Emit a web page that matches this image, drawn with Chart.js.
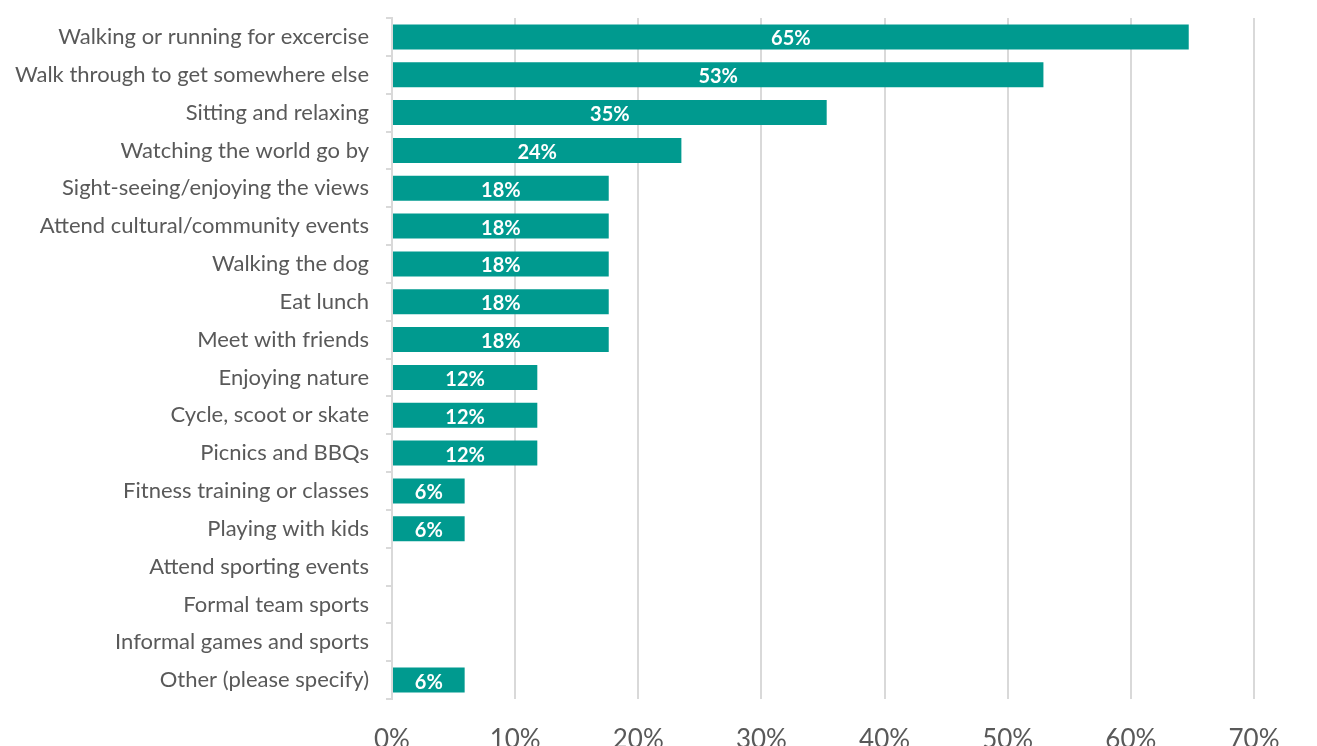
<!DOCTYPE html>
<html>
<head>
<meta charset="utf-8">
<script src="https://cdn.jsdelivr.net/npm/chart.js@4"></script>
<style>
  html, body { margin: 0; padding: 0; background: #fff; }
  #wrap { width: 1317px; height: 746px; }
</style>
</head>
<body>
<div id="wrap"><canvas id="graph" width="1317" height="746"></canvas></div>
<script>
const categories = [
  'Walking or running for excercise',
  'Walk through to get somewhere else',
  'Sitting and relaxing',
  'Watching the world go by',
  'Sight-seeing/enjoying the views',
  'Attend cultural/community events',
  'Walking the dog',
  'Eat lunch',
  'Meet with friends',
  'Enjoying nature',
  'Cycle, scoot or skate',
  'Picnics and BBQs',
  'Fitness training or classes',
  'Playing with kids',
  'Attend sporting events',
  'Formal team sports',
  'Informal games and sports',
  'Other (please specify)'
];
const shares = [64.7, 52.9, 35.3, 23.5, 17.6, 17.6, 17.6, 17.6, 17.6, 11.8, 11.8, 11.8, 5.9, 5.9, 0, 0, 0, 5.9];
const xTicks = [0, 10, 20, 30, 40, 50, 60, 70];

const canvas = document.getElementById('graph');
const ctx = canvas.getContext('2d');

// white % labels inside the bars
const barLabels = {
  id: 'barLabels',
  afterDatasetsDraw(chart) {
    const c = chart.ctx;
    const meta = chart.getDatasetMeta(0);
    c.save();
    c.fillStyle = '#ffffff';
    c.font = 'bold 20px Lato';
    c.textAlign = 'center';
    c.textBaseline = 'middle';
    meta.data.forEach((bar, i) => {
      const v = shares[i];
      if (!v) return;
      c.fillText(Math.round(v) + '%', (bar.x + bar.base) / 2, bar.y + 2);
    });
    c.restore();
  }
};

new Chart(ctx, {
  type: 'bar',
  data: {
    labels: categories,
    datasets: [{
      data: shares,
      backgroundColor: '#009a8f',
      borderWidth: 0,
      categoryPercentage: 0.66,
      barPercentage: 1
    }]
  },
  options: {
    indexAxis: 'y',
    responsive: false,
    animation: false,
    layout: { padding: { top: 18, right: 63, left: 0, bottom: 0 } },
    plugins: {
      legend: { display: false },
      tooltip: { enabled: false }
    },
    scales: {
      x: {
        min: 0,
        max: 70,
        afterBuildTicks(scale) {
          scale.ticks = xTicks.map(v => ({ value: v }));
        },
        afterFit(scale) { scale.height = 47; },
        grid: { color: '#d9d9d9', lineWidth: 2, drawTicks: false },
        border: { display: false },
        ticks: {
          color: '#595959',
          font: { family: 'Lato', size: 26 },
          padding: 25,
          callback: v => v + '%'
        }
      },
      y: {
        afterFit(scale) {
          scale.width = 392;
          scale.paddingTop = 0;
          scale.paddingBottom = 0;
        },
        grid: { drawOnChartArea: false, drawTicks: true, tickLength: 6, color: '#d9d9d9', lineWidth: 2 },
        border: { color: '#d9d9d9', width: 2 },
        ticks: {
          color: '#595959',
          font: { family: 'Lato', size: 22 },
          padding: 17
        }
      }
    }
  },
  plugins: [barLabels]
});
</script>
</body>
</html>
